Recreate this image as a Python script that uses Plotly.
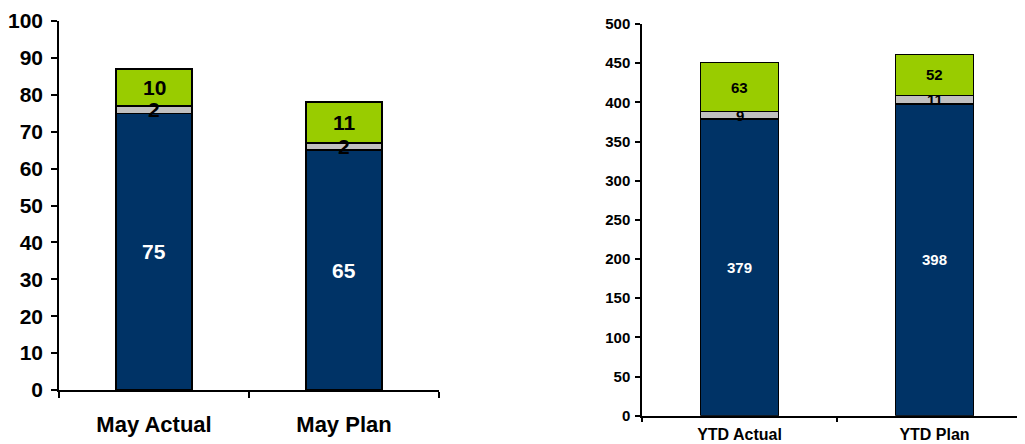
import plotly.graph_objects as go

# Data
month_categories = ["May Actual", "May Plan"]
month_navy = [75, 65]
month_gray = [2, 2]
month_green = [10, 11]

ytd_categories = ["YTD Actual", "YTD Plan"]
ytd_navy = [379, 398]
ytd_gray = [9, 11]
ytd_green = [63, 52]

left_ticks = list(range(0, 101, 10))
right_ticks = list(range(0, 501, 50))

NAVY = "#003366"
GRAY = "#C0C0C0"
GREEN = "#99CC00"
FONT = "Liberation Sans, Arial, sans-serif"

W, H = 1025, 444
OFF = 8  # page body margin

def xd(a, b):
    return [(a - OFF) / W, min((b - OFF) / W, 1.0)]

def yd(top, bottom):
    return [1 - (bottom - OFF) / H, 1 - (top - OFF) / H]

fig = go.Figure()

def add_stack(cats, navy, gray, green, xa, ya):
    for vals, col in [(navy, NAVY), (gray, GRAY), (green, GREEN)]:
        fig.add_trace(go.Bar(
            x=cats, y=vals, marker=dict(color=col, line=dict(color="black", width=1.5)),
            width=0.4, xaxis=xa, yaxis=ya, showlegend=False, hoverinfo="skip"))

add_stack(month_categories, month_navy, month_gray, month_green, "x", "y")
add_stack(ytd_categories, ytd_navy, ytd_gray, ytd_green, "x2", "y2")

def add_labels(cats, navy, gray, green, xref, yref, size):
    for i, c in enumerate(cats):
        base = 0
        for vals, color in [(navy, "white"), (gray, "black"), (green, "black")]:
            v = vals[i]
            fig.add_annotation(x=c, y=base + v / 2, xref=xref, yref=yref, text=str(v),
                               showarrow=False,
                               font=dict(family=FONT, size=size, color=color, weight="bold"))
            base += v

add_labels(month_categories, month_navy, month_gray, month_green, "x", "y", 21)
add_labels(ytd_categories, ytd_navy, ytd_gray, ytd_green, "x2", "y2", 15)

axis_common = dict(showline=True, linecolor="black", linewidth=1.5, showgrid=False,
                   zeroline=False, ticks="outside", tickcolor="black", tickwidth=1.5,
                   automargin=False)

fig.update_layout(
    width=W, height=H,
    margin=dict(l=0, r=0, t=0, b=0, autoexpand=False),
    paper_bgcolor="white", plot_bgcolor="white",
    barmode="stack",
    font=dict(family=FONT, color="black"),
    xaxis=dict(domain=xd(59, 439), range=[-0.5, 1.5], tickson="boundaries",
               ticklen=6, ticklabelstandoff=14,
               tickfont=dict(size=22, weight="bold"), anchor="y", **axis_common),
    yaxis=dict(domain=yd(21, 390), range=[0, 100], tickvals=left_ticks,
               ticklen=6, ticklabelstandoff=4,
               tickfont=dict(size=21, weight="bold"), anchor="x", **axis_common),
    xaxis2=dict(domain=xd(642, 1032), range=[-0.5, 1.5], tickson="boundaries",
                ticklen=5, ticklabelstandoff=3,
                tickfont=dict(size=16, weight="bold"), anchor="y2", **axis_common),
    yaxis2=dict(domain=yd(24, 415.7), range=[0, 500], tickvals=right_ticks,
                ticklen=5, ticklabelstandoff=2,
                tickfont=dict(size=15, weight="bold"), anchor="x2", **axis_common),
)

fig.write_html("out.html")
